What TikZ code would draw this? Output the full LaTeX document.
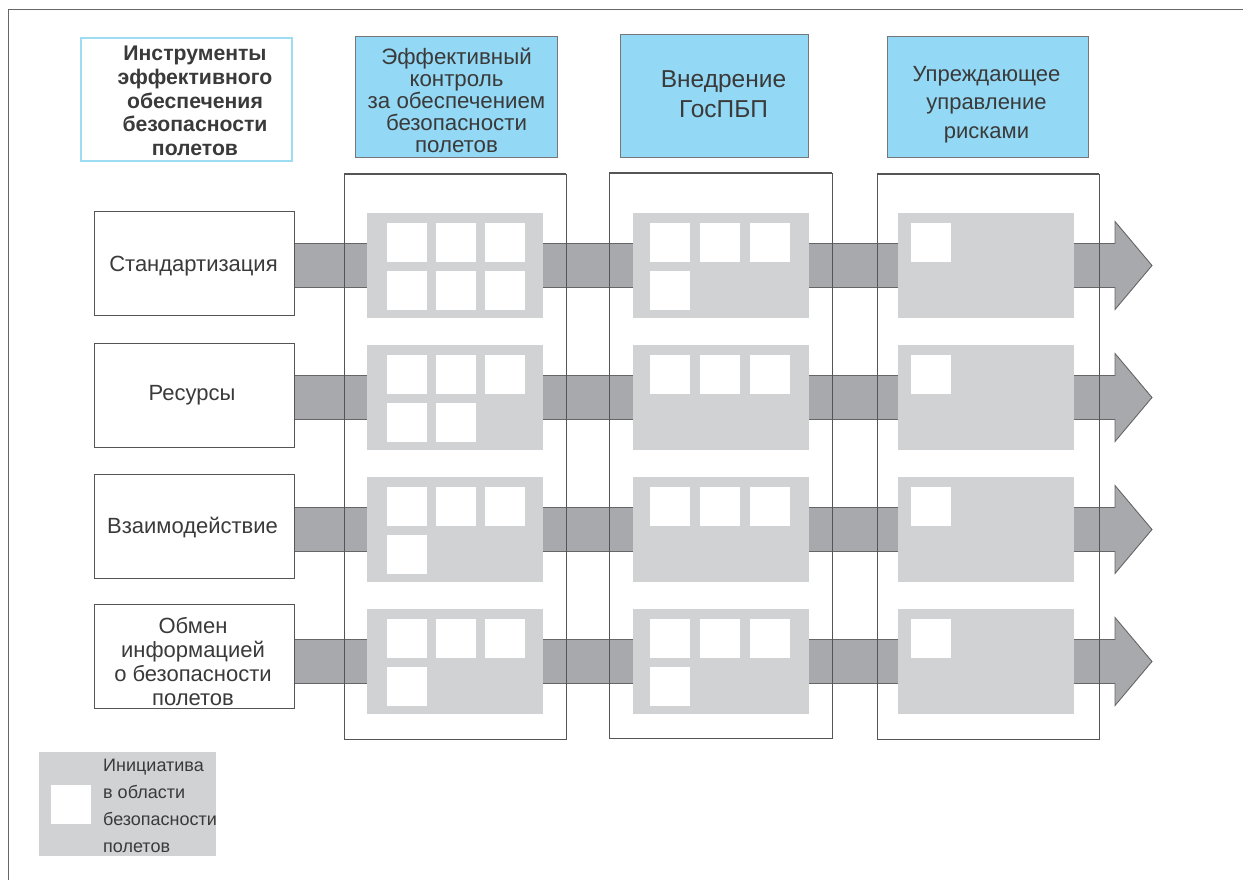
\documentclass[tikz,border=0pt]{standalone}
\usepackage{fontspec}
\setmainfont{Liberation Sans}
\usetikzlibrary{calc}
\pgfdeclarelayer{bg}
\pgfsetlayers{bg,main}
\definecolor{lblue}{HTML}{93D8F4}
\definecolor{lborder}{HTML}{9EDCF4}
\definecolor{panel}{HTML}{D1D2D4}
\definecolor{shaft}{HTML}{A8A9AC}
\definecolor{ink}{HTML}{3A3A3A}
\definecolor{frame}{HTML}{555555}
\begin{document}
\begin{tikzpicture}[x=1pt,y=-1pt,
  every node/.style={text=ink},
  hdrA/.style={draw=lborder, line width=2.5pt, fill=white, inner sep=0pt},
  hdrB/.style={draw=frame!80, line width=0.9pt, fill=lblue, inner sep=0pt},
  lbl/.style={align=center, inner sep=0pt},
  rowbox/.style={draw=frame, line width=0.8pt, fill=white, minimum width=200, minimum height=104, inner sep=0pt},
  rowtxt/.style={lbl, font=\fontsize{22}{24}\selectfont},
  colframe/.style={draw=frame, line width=0.8pt, minimum width=222, minimum height=565, inner sep=0pt},
  panelbox/.style={fill=panel, minimum width=176, minimum height=105, inner sep=0pt},
  sqbox/.style={fill=white, minimum width=40, minimum height=39, inner sep=0pt, anchor=north west},
  blockarrow/.style={fill=shaft},
  arrowedge/.style={draw=frame!90, line width=0.9pt, line join=miter}
]
\useasboundingbox (0,0) rectangle (1243,880);
% outer frame
\draw[frame!90, line width=1.6pt] (1243,9.5) -- (8.5,9.5) -- (8.5,880);

% headers
\node[hdrA, minimum width=211, minimum height=123] (h1) at (186.5,99.5) {};
\node[lbl, font=\bfseries\fontsize{21.2}{23.8}\selectfont] (h1t) at (195,101)
  {Инструменты\\эффективного\\обеспечения\\безопасности\\полетов};
\node[hdrB, minimum width=202, minimum height=121] (h2) at (456,96.5) {};
\node[lbl, font=\fontsize{22.3}{22}\selectfont] (h2t) at (456.5,100)
  {Эффективный\\контроль\\за обеспечением\\безопасности\\полетов};
\node[hdrB, minimum width=188, minimum height=123] (h3) at (714,96) {};
\node[lbl, font=\fontsize{24.5}{30}\selectfont] (h3t) at (723.5,94)
  {Внедрение\\ГосПБП};
\node[hdrB, minimum width=201, minimum height=121] (h4) at (987.5,97) {};
\node[lbl, font=\fontsize{22}{28.5}\selectfont] (h4t) at (986.5,104.5)
  {Упреждающее\\управление\\рисками};

% row boxes
\node[rowbox] (r1) at (194,263) {};
\node[rowtxt] (r1t) at (193.5,266) {Стандартизация};
\node[rowbox] (r2) at (194,395) {};
\node[rowtxt] (r2t) at (192,395.5) {Ресурсы};
\node[rowbox] (r3) at (194,526) {};
\node[rowtxt] (r3t) at (192.5,528) {Взаимодействие};
\node[rowbox] (r4) at (194,656) {};
\node[rowtxt] (r4t) at (193,662) {Обмен\\информацией\\о безопасности\\полетов};

% arrow tips
\coordinate (t1) at (1152,265.5);
\coordinate (t2) at (1152,397.5);
\coordinate (t3) at (1152,529.5);
\coordinate (t4) at (1152,661.5);

% columns (frames on background, over arrows)
\path (455,456.5) node[colframe] (c1) {};
\path (720.5,456) node[colframe, minimum width=223] (c2) {};
\path (988,456.5) node[colframe] (c3) {};

\begin{pgfonlayer}{bg}
\foreach \i in {1,2,3,4}{
  \fill[blockarrow] ($(r\i.east|-t\i)+(0,-22)$) -- ($(t\i)+(-37,-22)$) -- ($(t\i)+(-37,-44)$)
     -- (t\i) -- ($(t\i)+(-37,44)$) -- ($(t\i)+(-37,22)$) -- ($(r\i.east|-t\i)+(0,22)$) -- cycle;
  \draw[arrowedge] ($(r\i.east|-t\i)+(0,-22)$) -- ($(t\i)+(-37,-22)$) -- ($(t\i)+(-37,-44)$)
     -- (t\i) -- ($(t\i)+(-37,44)$) -- ($(t\i)+(-37,22)$) -- ($(r\i.east|-t\i)+(0,22)$);
}
\draw[frame, line width=1.8pt] (c1.north west) -- (c1.north east);
\draw[frame, line width=1.8pt] (c2.north west) -- (c2.north east);
\draw[frame, line width=1.8pt] (c3.north west) -- (c3.north east);
\end{pgfonlayer}

% panels
\foreach \i in {1,2,3,4}{
  \node[panelbox] (g\i1) at (c1|-t\i) {};
  \node[panelbox] (g\i2) at ($(c2|-t\i)+(0.5,0)$) {};
  \node[panelbox] (g\i3) at ($(c3|-t\i)+(-2,0)$) {};
}

% squares, column 1
\foreach \r/\list in {1/{20/10,69/10,118/10,20/58,69/58,118/58},
                       2/{20/10,69/10,118/10,20/58,69/58},
                       3/{20/10,69/10,118/10,20/58},
                       4/{20/10,69/10,118/10,20/58}}{
  \foreach \dx/\dy [count=\k] in \list {
    \node[sqbox] (s\r1\k) at ($(g\r1.north west)+(\dx,\dy)$) {};
  }
}
% squares, column 2
\foreach \r/\list in {1/{17/10,67/10,117/10,17/58},
                       2/{17/10,67/10,117/10},
                       3/{17/10,67/10,117/10},
                       4/{17/10,67/10,117/10,17/58}}{
  \foreach \dx/\dy [count=\k] in \list {
    \node[sqbox] (s\r2\k) at ($(g\r2.north west)+(\dx,\dy)$) {};
  }
}
% squares, column 3
\foreach \r in {1,2,3,4}{
  \node[sqbox] (s\r31) at ($(g\r3.north west)+(13,10)$) {};
}

% legend
\node[fill=panel, minimum width=177, minimum height=104, inner sep=0pt] (lg) at (127.5,804) {};
\node[sqbox, anchor=center] (lgsq) at (71,804.5) {};
\node[anchor=west, align=left, inner sep=0pt, font=\fontsize{18}{27}\selectfont] (lgtxt) at (103,806)
  {Инициатива\\в области\\безопасности\\полетов};
\end{tikzpicture}
\end{document}
